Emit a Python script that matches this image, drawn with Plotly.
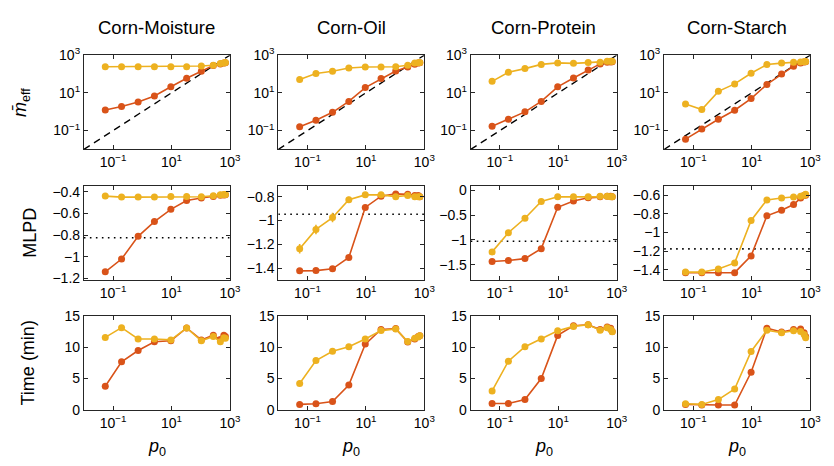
import plotly.graph_objects as go

# ---- data -------------------------------------------------------------
datasets = ["Corn-Moisture", "Corn-Oil", "Corn-Protein", "Corn-Starch"]
p0 = [0.054, 0.195, 0.72, 2.6, 9.5, 33, 105, 270, 470, 620, 700]

# effective number of mixture components (log scale)
meff_yellow = {
    "Corn-Moisture": [245, 245, 245, 245, 245, 245, 265, 295, 360, 390, 405],
    "Corn-Oil": [51, 107, 140, 210, 235, 235, 245, 295, 390, 400, 410],
    "Corn-Protein": [41, 125, 194, 325, 390, 370, 405, 420, 470, 480, 480],
    "Corn-Starch": [2.6, 1.3, 12, 30, 110, 320, 380, 420, 440, 450, 460],
}
meff_red = {
    "Corn-Moisture": [1.23, 1.9, 3.3, 6.9, 21, 60, 142, 283, 340, 380, 400],
    "Corn-Oil": [0.16, 0.35, 0.93, 3.5, 19, 57, 145, 235, 330, 380, 400],
    "Corn-Protein": [0.17, 0.40, 0.98, 3.5, 21, 62, 166, 345, 420, 440, 450],
    "Corn-Starch": [0.035, 0.12, 0.40, 1.2, 5, 28, 100, 260, 380, 430, 450],
}

# mean log predictive density
mlpd_yellow = {
    "Corn-Moisture": [-0.439, -0.448, -0.448, -0.448, -0.442, -0.442, -0.445, -0.436, -0.427, -0.424, -0.424],
    "Corn-Oil": [-1.237, -1.075, -0.975, -0.826, -0.785, -0.785, -0.80, -0.79, -0.80, -0.80, -0.80],
    "Corn-Protein": [-1.24, -0.853, -0.562, -0.225, -0.128, -0.128, -0.13, -0.12, -0.12, -0.13, -0.13],
    "Corn-Starch": [-1.424, -1.424, -1.39, -1.325, -0.87, -0.65, -0.63, -0.62, -0.61, -0.60, -0.59],
}
mlpd_red = {
    "Corn-Moisture": [-1.138, -1.02, -0.81, -0.674, -0.561, -0.48, -0.457, -0.442, -0.43, -0.428, -0.426],
    "Corn-Oil": [-1.422, -1.42, -1.405, -1.31, -0.89, -0.796, -0.777, -0.78, -0.79, -0.79, -0.80],
    "Corn-Protein": [-1.434, -1.415, -1.376, -1.175, -0.341, -0.213, -0.15, -0.13, -0.12, -0.12, -0.13],
    "Corn-Starch": [-1.43, -1.43, -1.43, -1.43, -1.25, -0.82, -0.76, -0.70, -0.63, -0.60, -0.60],
}
mlpd_err_yellow = {
    "Corn-Oil": [0.04, 0.04, 0.04, 0.025, 0.02, 0.02, 0.02, 0.02, 0.02, 0.02, 0.02],
}
mlpd_reference = {"Corn-Moisture": -0.823, "Corn-Oil": -0.948, "Corn-Protein": -1.027, "Corn-Starch": -1.175}

# run time in minutes
time_yellow = {
    "Corn-Moisture": [11.55, 13.1, 11.3, 11.3, 11.15, 13.05, 11.0, 11.7, 10.85, 11.5, 11.4],
    "Corn-Oil": [4.22, 7.86, 9.35, 10.07, 11.3, 12.63, 12.9, 10.9, 11.4, 11.6, 11.8],
    "Corn-Protein": [3.03, 7.76, 10.07, 11.3, 12.59, 13.3, 13.56, 12.7, 13.1, 12.8, 12.43],
    "Corn-Starch": [0.98, 0.88, 1.65, 3.34, 9.3, 12.7, 12.3, 12.6, 12.5, 12.0, 11.5],
}
time_red = {
    "Corn-Moisture": [3.76, 7.66, 9.46, 10.85, 11.0, 13.05, 11.15, 11.9, 11.2, 11.9, 11.7],
    "Corn-Oil": [0.88, 0.98, 1.34, 3.96, 10.48, 12.8, 12.95, 10.8, 11.3, 11.7, 11.8],
    "Corn-Protein": [1.03, 1.03, 1.65, 4.99, 11.87, 13.4, 13.56, 12.8, 13.2, 13.0, 12.5],
    "Corn-Starch": [0.88, 0.78, 0.78, 0.78, 6.0, 13.0, 12.4, 12.8, 12.9, 12.3, 11.7],
}

x_ticks = [0.1, 10, 1000]
x_ticktext = ["10<sup>\u22121</sup>", "10<sup>1</sup>", "10<sup>3</sup>"]
meff_ticks = [0.1, 10, 1000]
mlpd_ranges = {"Corn-Moisture": [-1.215, -0.345], "Corn-Oil": [-1.50, -0.71],
               "Corn-Protein": [-1.81, 0.09], "Corn-Starch": [-1.51, -0.50]}
mlpd_ticks = {"Corn-Moisture": [-1.2, -1, -0.8, -0.6, -0.4], "Corn-Oil": [-1.4, -1.2, -1, -0.8],
              "Corn-Protein": [-1.5, -1, -0.5, 0], "Corn-Starch": [-1.4, -1.2, -1, -0.8, -0.6]}
time_ticks = [0, 5, 10, 15]

# ---- styling ------------------------------------------------------------
W, H = 834, 466
RED = "#D95319"
YELLOW = "#EDB120"
FRAME = "#262626"
FONT = "Liberation Sans, Arial, sans-serif"

col_px = [(85, 233), (282, 430), (477, 625), (673, 821)]
row_px = [(47, 145), (183, 281), (318, 416)]


def fmt(v):
    s = ("%g" % v)
    return s.replace("-", "\u2212")


fig = go.Figure()
layout = {}


def axis_names(r, c):
    idx = r * 4 + c + 1
    return ("x" if idx == 1 else "x%d" % idx), ("y" if idx == 1 else "y%d" % idx), idx


def add_series(r, c, x, y, color, err=None):
    xa, ya, _ = axis_names(r, c)
    tr = dict(x=x, y=y, mode="lines+markers", xaxis=xa, yaxis=ya, showlegend=False,
              line=dict(color=color, width=1.6),
              marker=dict(color=color, size=7, line=dict(width=0)))
    if err is not None:
        tr["error_y"] = dict(type="data", array=err, color=color, thickness=1.6, width=0)
    fig.add_trace(go.Scatter(**tr))


base_axis = dict(showline=True, linecolor=FRAME, linewidth=1, mirror="ticks",
                 ticks="inside", ticklen=4, tickcolor=FRAME, tickwidth=1,
                 showgrid=False, zeroline=False,
                 tickfont=dict(family=FONT, size=14, color="#000000"))

for c, name in enumerate(datasets):
    x0, x1 = col_px[c]
    for r in range(3):
        xa, ya, idx = axis_names(r, c)
        y0, y1 = row_px[r]
        xkey = "xaxis" if idx == 1 else "xaxis%d" % idx
        ykey = "yaxis" if idx == 1 else "yaxis%d" % idx
        layout[xkey] = dict(base_axis, type="log", range=[-2, 3], tickvals=x_ticks,
                            ticktext=x_ticktext, anchor=ya,
                            domain=[x0 / W, x1 / W])
        yax = dict(base_axis, anchor=xa, domain=[1 - y1 / H, 1 - y0 / H])
        if r == 0:
            yax.update(type="log", range=[-2, 3], tickvals=meff_ticks, ticktext=x_ticktext)
        elif r == 1:
            yax.update(range=mlpd_ranges[name], tickvals=mlpd_ticks[name],
                       ticktext=[fmt(v) for v in mlpd_ticks[name]])
        else:
            yax.update(range=[0, 15], tickvals=time_ticks, ticktext=[fmt(v) for v in time_ticks])
        layout[ykey] = yax

    # row 1: diagonal reference m_eff = p0
    xa, ya, _ = axis_names(0, c)
    fig.add_trace(go.Scatter(x=[0.01, 1000], y=[0.01, 1000], mode="lines", xaxis=xa, yaxis=ya,
                             showlegend=False, line=dict(color="#000000", width=1.3, dash="7px,5px")))
    add_series(0, c, p0, meff_red[name], RED)
    add_series(0, c, p0, meff_yellow[name], YELLOW)

    # row 2: MLPD with baseline level
    xa, ya, _ = axis_names(1, c)
    fig.add_trace(go.Scatter(x=[0.01, 1000], y=[mlpd_reference[name]] * 2, mode="lines",
                             xaxis=xa, yaxis=ya, showlegend=False,
                             line=dict(color="#000000", width=1.6, dash="1.6px,4.4px")))
    add_series(1, c, p0, mlpd_red[name], RED)
    add_series(1, c, p0, mlpd_yellow[name], YELLOW, mlpd_err_yellow.get(name))

    # row 3: run time
    add_series(2, c, p0, time_red[name], RED)
    add_series(2, c, p0, time_yellow[name], YELLOW)

annotations = []
for c, name in enumerate(datasets):
    cx = (col_px[c][0] + col_px[c][1]) / 2 / W
    annotations.append(dict(text=name, x=cx, y=1 - 18 / H, xref="paper", yref="paper",
                            showarrow=False, xanchor="center", yanchor="middle",
                            font=dict(family=FONT, size=18.5, color="#000000")))
    annotations.append(dict(text="<i>p</i><sub>0</sub>", x=cx, y=1 - 455 / H, xref="paper",
                            yref="paper", showarrow=False, xanchor="center", yanchor="middle",
                            font=dict(family=FONT, size=18, color="#000000")))

row_titles = [("<i>m\u0304</i><sub>eff</sub>", 22, 96), ("MLPD", 30, 232), ("Time (min)", 28, 367)]
for text, px, py in row_titles:
    annotations.append(dict(text=text, x=px / W, y=1 - py / H, xref="paper", yref="paper",
                            showarrow=False, textangle=-90, xanchor="center", yanchor="middle",
                            font=dict(family=FONT, size=18, color="#000000")))

fig.update_layout(width=W, height=H, margin=dict(l=0, r=0, t=0, b=0),
                  paper_bgcolor="white", plot_bgcolor="white",
                  annotations=annotations, **layout)

fig.write_html("out.html")
